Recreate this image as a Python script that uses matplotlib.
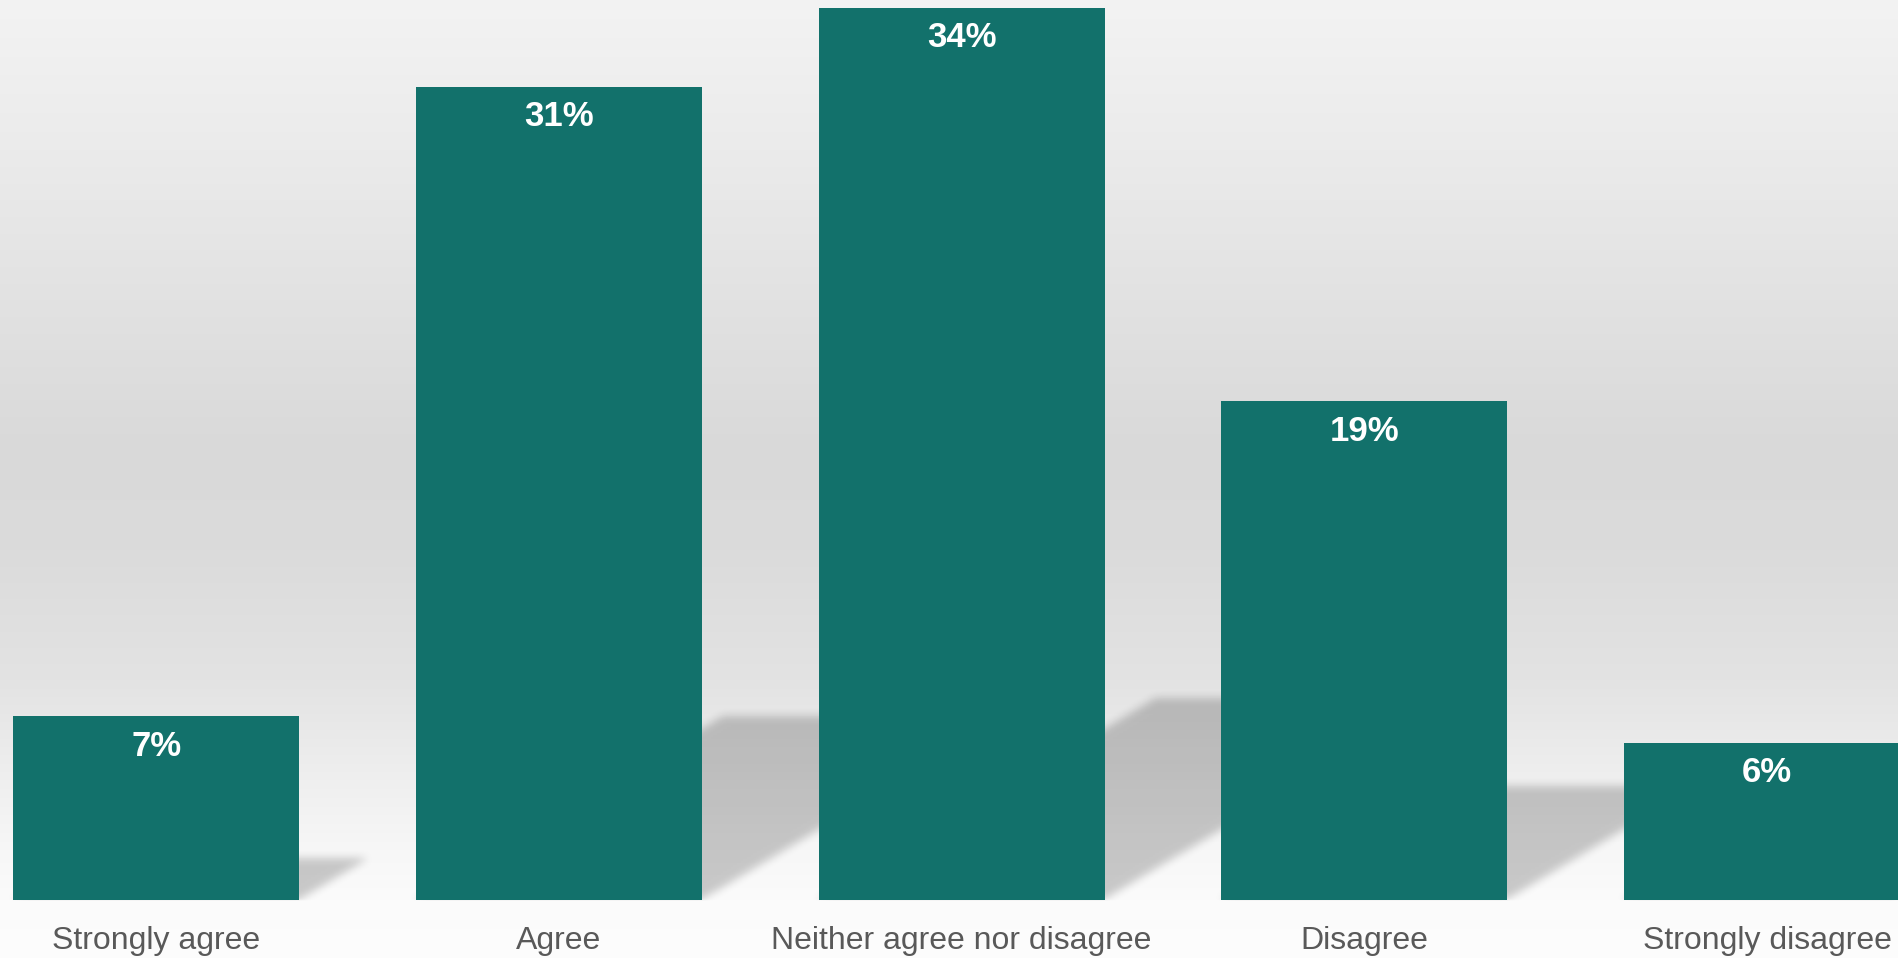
import numpy as np
import matplotlib
matplotlib.use('Agg')
import matplotlib.pyplot as plt
from matplotlib.path import Path

# survey answers
categories = ['Strongly agree', 'Agree', 'Neither agree nor disagree', 'Disagree', 'Strongly disagree']
values = [7, 31, 34, 19, 6]
value_labels = ['7%', '31%', '34%', '19%', '6%']

bar_color = '#12716b'
bar_width = 0.71
plt.rcParams['font.family'] = ['Liberation Sans', 'DejaVu Sans']

fig = plt.figure(figsize=(18.98, 9.58), dpi=100)
ax = fig.add_axes([0, 0, 1, 1])
x0, x1 = -0.3875, 4.325
y0, y1 = -2.21, 34.3
ax.set_xlim(x0, x1)
ax.set_ylim(y0, y1)
ax.axis('off')

# grey vertical gradient behind everything (row 0 = top)
H, W = 958, 1898
rows = np.arange(H)
grad = np.interp(rows, [0, 150, 450, 550, 680, 780, 850, 900, 958],
                 [243, 235, 217, 219, 227, 239, 247, 251, 253]) / 255.0
bg = np.repeat(grad[:, None], 4, axis=1)[:, None, :] * np.ones((1, 2, 1))
bg[..., 3] = 1.0
ax.imshow(bg, extent=(x0, x1, y0, y1), aspect='auto', origin='upper',
          interpolation='bilinear', zorder=0)

# soft floor shadows: each bar squashed and skewed to the right
squash = 0.226
skew = 0.109
nx, ny = W // 2, H // 2
gx = np.linspace(x0, x1, nx)
gy = np.linspace(y1, y0, ny)
GX, GY = np.meshgrid(gx, gy)
pts = np.column_stack([GX.ravel(), GY.ravel()])
mask = np.zeros(GX.size, dtype=bool)
for i, v in enumerate(values):
    h = squash * v
    l, r = i - bar_width / 2, i + bar_width / 2
    poly = Path([(l, 0), (r, 0), (r + skew * h, h), (l + skew * h, h), (l, 0)])
    mask |= poly.contains_points(pts)
mask = mask.reshape(GX.shape).astype(float)

kernel = np.ones(5) / 5
for _ in range(2):
    mask = np.apply_along_axis(lambda m: np.convolve(m, kernel, mode='same'), 0, mask)
    mask = np.apply_along_axis(lambda m: np.convolve(m, kernel, mode='same'), 1, mask)
mask[GY < 0] = 0

shadow = np.zeros((ny, nx, 4))
shadow[..., 3] = mask * 0.2
ax.imshow(shadow, extent=(x0, x1, y0, y1), aspect='auto', origin='upper',
          interpolation='bilinear', zorder=1)

x = np.arange(len(categories))
ax.bar(x, values, width=bar_width, color=bar_color, zorder=3)

for xi, v, lab in zip(x, values, value_labels):
    ax.text(xi, v - 1.5, lab, ha='center', va='baseline', color='white',
            fontsize=25, fontweight='bold', zorder=4)

for xi, cat in zip(x, categories):
    ax.text(xi, -1.87, cat, ha='center', va='baseline', color='#595959',
            fontsize=23, zorder=4)

fig.savefig('out.png', dpi=100)
